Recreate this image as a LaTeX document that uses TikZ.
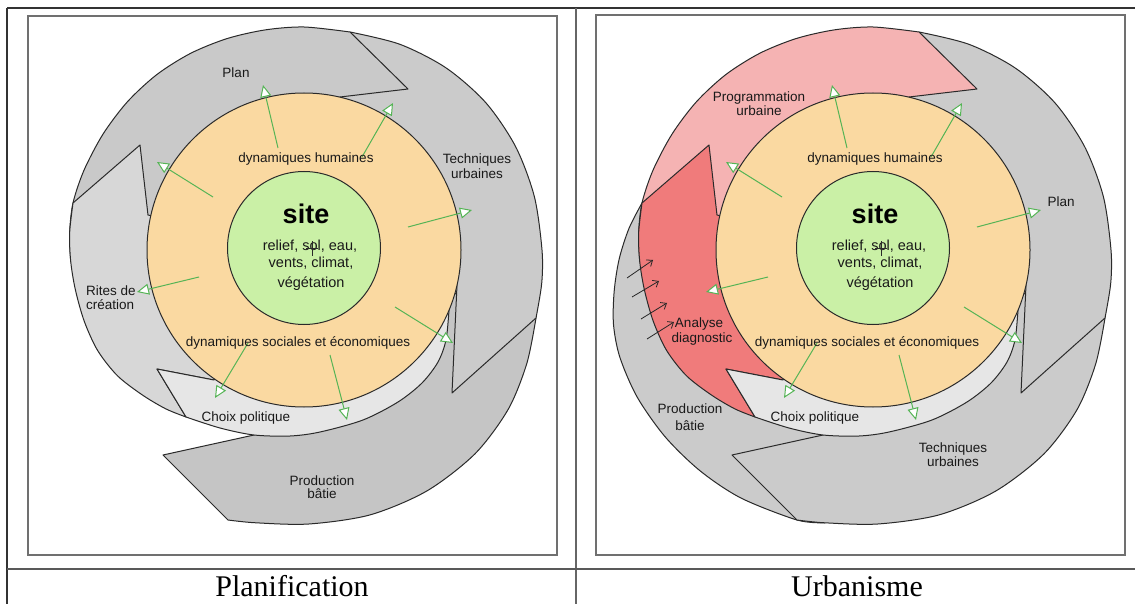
\documentclass[tikz,border=0pt]{standalone}
\usepackage{fontspec}
\setmainfont{Liberation Serif}
\newfontfamily\diag{Liberation Sans}
\usetikzlibrary{arrows.meta}

\definecolor{edge}{HTML}{2A2A2A}
\definecolor{grayPlan}{HTML}{C9C9C9}
\definecolor{grayTech}{HTML}{CBCBCB}
\definecolor{grayProd}{HTML}{C5C5C5}
\definecolor{grayRites}{HTML}{D7D7D7}
\definecolor{lightband}{HTML}{E6E6E6}
\definecolor{orangefill}{HTML}{FAD9A1}
\definecolor{greenfill}{HTML}{CAF0A6}
\definecolor{pinkfill}{HTML}{F5B3B3}
\definecolor{redfill}{HTML}{F07B7B}
\definecolor{arrowgreen}{HTML}{55B455}
\definecolor{framegray}{HTML}{707070}

% region outlines (left panel coordinates, 1 unit = 1 px)
\def\pathProd{(163,455) -- (254,435) -- (300,380) -- (480,280) -- (530,300) -- plot[smooth] coordinates {(536,318) (526.8,363.5) (508.1,409.5) (475,453.8) (426.8,491) (370,514.9) (308.8,524) (255.9,522.8) (228,520)} -- cycle}
\def\pathTech{(320,60) -- plot[smooth] coordinates {(350,32) (399.9,44.3) (446.2,68) (485.8,102.7) (515.7,146.8) (534.4,196.8) (542,250) (541.7,283.4) (536,318)} -- (452,393) -- (457,285) -- (304,250) -- cycle}
\def\pathPlan{(340,97) -- (408,89) -- plot[smooth] coordinates {(350,32) (304,27) (265.2,29.9) (227,38.6) (190.5,53.4) (156.8,74.6) (127.4,101.8) (103.1,134) (84.1,170) (73,203) (69.6,233.6) (70.8,262.2)} -- (200,262) -- (304,250) -- cycle}
\def\pathRites{(148,215) -- (140,145) -- plot[smooth] coordinates {(73,203) (69.6,233.6) (70.8,262.2) (75.5,290.3) (84.3,321.4) (97.7,350.6) (117.5,375.8) (142.7,395.2) (165.9,408.9) (186,417)} -- (157,369) -- (214,380) -- (304,250) -- cycle}
\def\pathLight{(157,369) -- plot[smooth] coordinates {(186,417) (220,428) (254,435) (290,436) (320,432) (363,420) (398,402) (422,383) (438,362) (446,340) (449,310)} -- (304,250) -- (214,380) -- cycle}
\def\pathBatie{(73,203) -- plot[smooth] coordinates {(73,203) (59.9,228.6) (50.2,258.9) (45.2,291) (44.5,324.4) (50.9,357.4) (68.3,397.3) (96.3,437) (131.3,471) (172.1,498.1) (228,520) (255.9,522.8)} -- (301,450) -- (131,300) -- cycle}

\newcommand\coreDiagram[5]{%
  \filldraw[regionbox, fill=#2] \pathProd;
  \filldraw[regionbox, fill=#3] \pathTech;
  \filldraw[regionbox, fill=#4] \pathPlan;
  \filldraw[regionbox, fill=#5] \pathRites;
  \filldraw[regionbox, fill=lightband] \pathLight;
  \filldraw[regionbox, fill=orangefill] (304,250) circle[radius=157pt];
  \filldraw[regionbox, fill=greenfill] (304,248) circle[radius=76.5pt];
  \foreach \i/\sx/\sy/\ex/\ey in {1/278/148/263/85, 2/213/197/157/162, 3/362/157/393/103, 4/408/227/472/210, 5/199/277/137/292, 6/395/307/453/343, 7/248/343/215/398, 8/330/355/347/420}{
    \coordinate (#1gs\i) at (\sx,\sy);
    \coordinate (#1ge\i) at (\ex,\ey);
    \draw[garrow] (#1gs\i) -- (#1ge\i);
  }
  \node[lab] (#1dh) at (306,163) {dynamiques humaines};
  \node[lab] (#1dse) at (298,346) {dynamiques sociales et économiques};
  \node[sitelab] (#1site) at (306,224) {site};
  \node[inlab] (#1t1) at (310,251) {relief, sol, eau,};
  \node[inlab] (#1t2) at (311,267) {vents, climat,};
  \node[inlab] (#1t3) at (311,287) {végétation};
  \draw[draw=edge, line width=0.8pt] (306,248) -- (318,248) (312,241) -- (312,256);
}

\begin{document}
\begin{tikzpicture}[x=1pt, y=-1pt,
  regionbox/.style={draw=edge, line width=1pt, line join=round},
  garrow/.style={draw=arrowgreen, line width=1pt, -{Triangle[length=12pt, width=11pt, fill=white]}},
  barrow/.style={draw=black!85, line width=0.8pt, -{Straight Barb[length=5pt, width=8pt]}},
  lab/.style={font={\diag\fontsize{13.5pt}{15pt}\selectfont}, anchor=base, inner sep=0pt, text=black!90},
  inlab/.style={font={\diag\fontsize{14.5pt}{16pt}\selectfont}, anchor=base, inner sep=0pt, text=black!90},
  sitelab/.style={font={\diag\bfseries\fontsize{27pt}{30pt}\selectfont}, anchor=base, inner sep=0pt},
  captxt/.style={font={\fontsize{30pt}{34pt}\selectfont}, anchor=base, inner sep=0pt},
  tableline/.style={draw=black!80, line width=1.2pt},
  imgframe/.style={draw=framegray, line width=2pt}]
\useasboundingbox (0,0) rectangle (1135,604);
\fill[white] (0,0) rectangle (1135,604);

% table
\draw[tableline] (7,8) -- (1135,8);
\draw[tableline] (7,8) -- (7,604);
\draw[draw=black!60, line width=1.8pt] (576,8) -- (576,604);
\draw[draw=black!65, line width=1.6pt] (7,569) -- (1135,569);

% image frames
\draw[imgframe] (28,16) rectangle (557,555);
\draw[imgframe] (596,15) rectangle (1125,555);

% left panel : Planification
\coreDiagram{L}{grayProd}{grayTech}{grayPlan}{grayRites}
\node[lab] (Lplan) at (236,78) {Plan};
\node[lab] (Ltech1) at (477,164) {Techniques};
\node[lab] (Ltech2) at (477,179) {urbaines};
\node[lab, anchor=base west] (Lrites1) at (86,295) {Rites de};
\node[lab, anchor=base west] (Lrites2) at (86,309) {création};
\node[lab] (Lchoix) at (246,421) {Choix politique};
\node[lab] (Lprod1) at (322,485) {Production};
\node[lab] (Lprod2) at (322,498) {bâtie};

% right panel : Urbanisme
\begin{scope}[xshift=569pt]
  \filldraw[regionbox, fill=grayTech] \pathBatie;
  \coreDiagram{R}{grayTech}{grayTech}{pinkfill}{redfill}
\end{scope}
\foreach \i/\sx/\sy/\ex/\ey in {1/627/278/653/260, 2/632/297/659/281, 3/641/319/667/303, 4/647/339/674/322}{
  \coordinate (bs\i) at (\sx,\sy);
  \coordinate (be\i) at (\ex,\ey);
  \draw[barrow] (bs\i) -- (be\i);
}
\node[lab] (Rprog1) at (759,102) {Programmation};
\node[lab] (Rprog2) at (759,116) {urbaine};
\node[lab] (Rplan) at (1061,207) {Plan};
\node[lab] (Rana1) at (699,327) {Analyse};
\node[lab] (Rana2) at (702,342) {diagnostic};
\node[lab] (Rprod1) at (690,413) {Production};
\node[lab] (Rprod2) at (690,430) {bâtie};
\node[lab] (Rchoix) at (815,421) {Choix politique};
\node[lab] (Rtech1) at (953,452) {Techniques};
\node[lab] (Rtech2) at (953,466) {urbaines};

% captions
\node[captxt] (capL) at (292,596) {Planification};
\node[captxt] (capR) at (857,596) {Urbanisme};
\end{tikzpicture}
\end{document}
